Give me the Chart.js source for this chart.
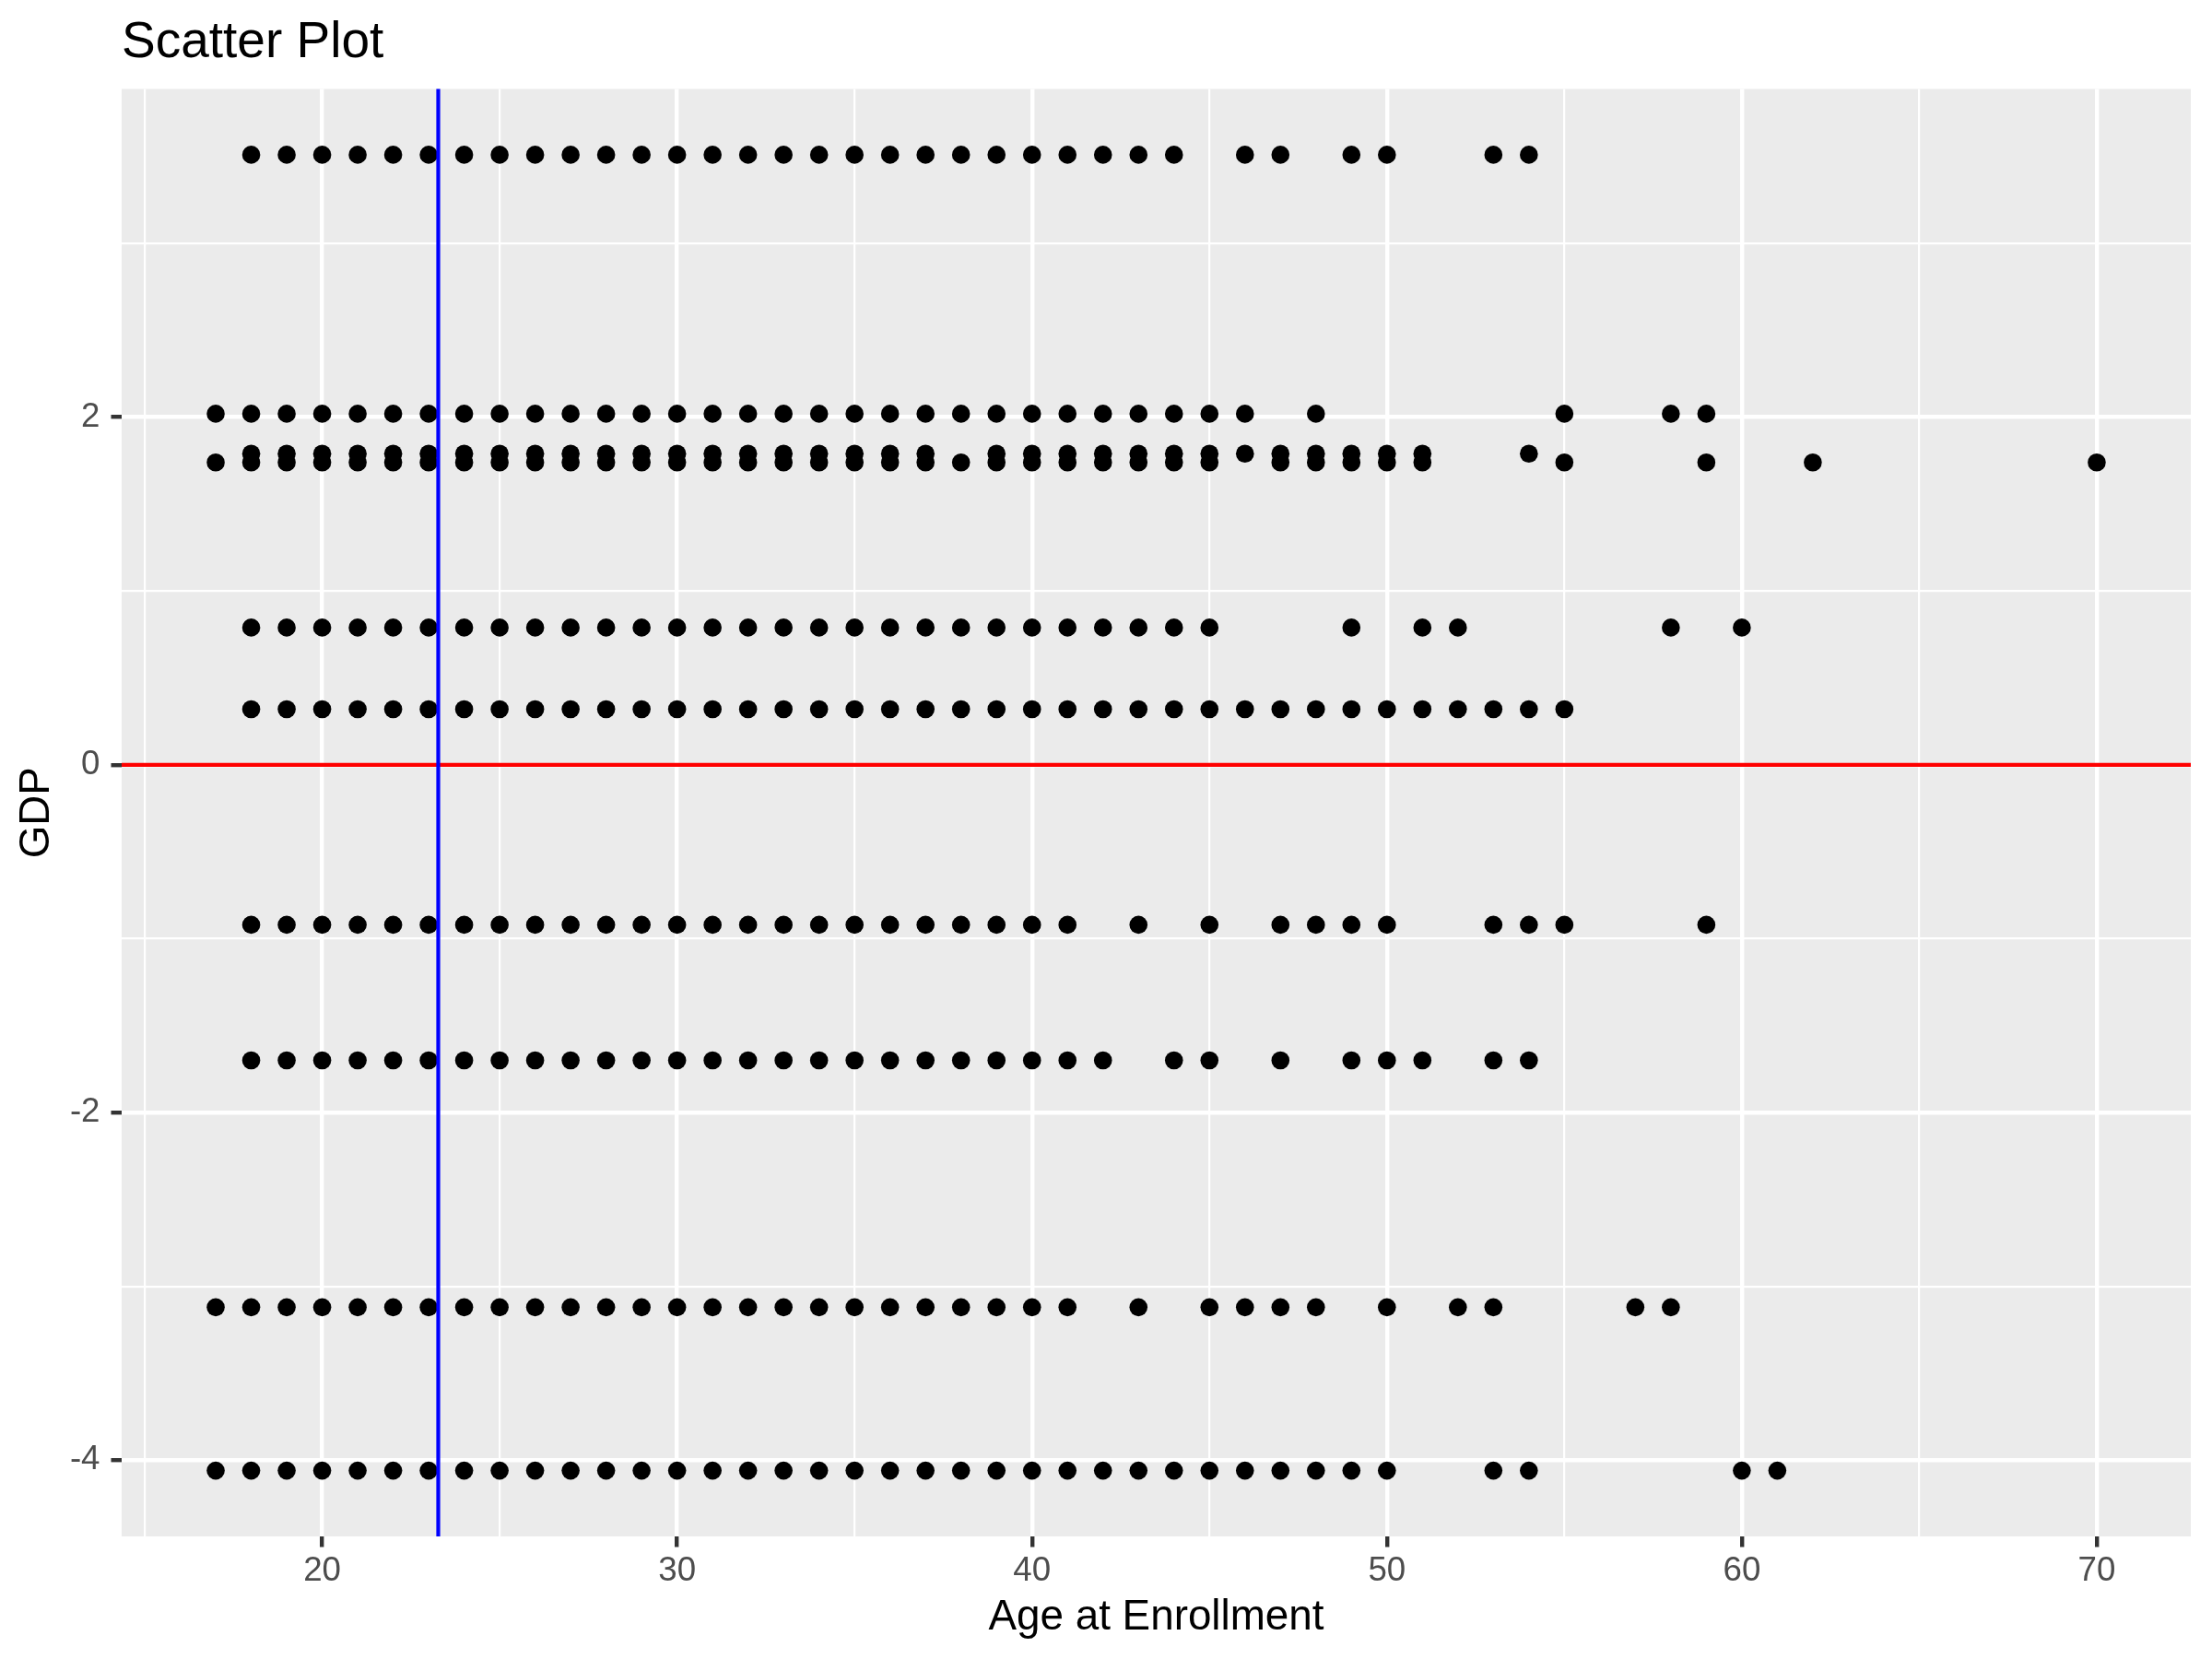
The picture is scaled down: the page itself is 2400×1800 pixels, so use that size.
<!DOCTYPE html>
<html><head><meta charset="utf-8">
<script src="https://cdn.jsdelivr.net/npm/chart.js@4/dist/chart.umd.min.js"></script>
<style>html,body{margin:0;padding:0;background:#fff}</style>
</head><body>
<canvas id="c" width="2400" height="1800"></canvas>
<script>
// ---- data ----
const gdpLevels = [3.51, 2.02, 1.79, 1.74, 0.79, 0.32, -0.92, -1.70, -3.12, -4.06];
const agesAtGdp351 = [18,19,20,21,22,23,24,25,26,27,28,29,30,31,32,33,34,35,36,37,38,39,40,41,42,43,44,46,47,49,50,53,54];
const agesAtGdp202 = [17,18,19,20,21,22,23,24,25,26,27,28,29,30,31,32,33,34,35,36,37,38,39,40,41,42,43,44,45,46,48,55,58,59];
const agesAtGdp179 = [18,19,20,21,22,23,24,25,26,27,28,29,30,31,32,33,34,35,36,37,39,40,41,42,43,44,45,46,47,48,49,50,51,54];
const agesAtGdp174 = [17,18,19,20,21,22,23,24,25,26,27,28,29,30,31,32,33,34,35,36,37,38,39,40,41,42,43,44,45,47,48,49,50,51,55,59,62,70];
const agesAtGdp079 = [18,19,20,21,22,23,24,25,26,27,28,29,30,31,32,33,34,35,36,37,38,39,40,41,42,43,44,45,49,51,52,58,60];
const agesAtGdp032 = [18,19,20,21,22,23,24,25,26,27,28,29,30,31,32,33,34,35,36,37,38,39,40,41,42,43,44,45,46,47,48,49,50,51,52,53,54,55];
const agesAtGdpM092 = [18,19,20,21,22,23,24,25,26,27,28,29,30,31,32,33,34,35,36,37,38,39,40,41,43,45,47,48,49,50,53,54,55,59];
const agesAtGdpM170 = [18,19,20,21,22,23,24,25,26,27,28,29,30,31,32,33,34,35,36,37,38,39,40,41,42,44,45,47,49,50,51,53,54];
const agesAtGdpM312 = [17,18,19,20,21,22,23,24,25,26,27,28,29,30,31,32,33,34,35,36,37,38,39,40,41,43,45,46,47,48,50,52,53,57,58];
const agesAtGdpM406 = [17,18,19,20,21,22,23,24,25,26,27,28,29,30,31,32,33,34,35,36,37,38,39,40,41,42,43,44,45,46,47,48,49,50,53,54,60,61];
const agesByLevel = [agesAtGdp351, agesAtGdp202, agesAtGdp179, agesAtGdp174, agesAtGdp079, agesAtGdp032, agesAtGdpM092, agesAtGdpM170, agesAtGdpM312, agesAtGdpM406];
const meanAge = 23.27;      // vertical reference line
const refGdp = 0;           // horizontal reference line
const xTickValues = [15,20,25,30,35,40,45,50,55,60,65,70];
const xMajorTicks = [20,30,40,50,60,70];
const yTickValues = [-4,-3,-2,-1,0,1,2,3];
const yMajorTicks = [-4,-2,0,2];
const xMin = 14.35, xMax = 72.65, yMin = -4.4385, yMax = 3.8885;

// ---- build points ----
const points = [];
gdpLevels.forEach((g, i) => agesByLevel[i].forEach(a => points.push({x: a, y: g})));

const FONT = "'Liberation Sans', Arial, Helvetica, sans-serif";

const panelBg = {
  id: 'panelBg',
  beforeDraw(chart) {
    const {ctx, chartArea: a} = chart;
    ctx.save();
    ctx.fillStyle = '#FFFFFF';
    ctx.fillRect(0, 0, chart.width, chart.height);
    ctx.fillStyle = '#EBEBEB';
    ctx.fillRect(a.left, a.top, a.right - a.left, a.bottom - a.top);
    ctx.restore();
  }
};
const refLines = {
  id: 'refLines',
  afterDatasetsDraw(chart) {
    const {ctx, chartArea: a, scales: {x, y}} = chart;
    ctx.save();
    ctx.lineWidth = 4.2;
    ctx.strokeStyle = '#FF0000';
    const py = y.getPixelForValue(refGdp);
    ctx.beginPath(); ctx.moveTo(a.left, py); ctx.lineTo(a.right, py); ctx.stroke();
    ctx.strokeStyle = '#0000FF';
    const px = x.getPixelForValue(meanAge);
    ctx.beginPath(); ctx.moveTo(px, a.top); ctx.lineTo(px, a.bottom); ctx.stroke();
    ctx.restore();
  }
};

const isMajor = (list) => (c) => c.tick && list.includes(c.tick.value);

new Chart(document.getElementById('c'), {
  type: 'scatter',
  data: { datasets: [{
    data: points,
    backgroundColor: '#000000',
    borderWidth: 0,
    pointRadius: 9.8,
    pointHoverRadius: 9.8
  }]},
  plugins: [panelBg, refLines],
  options: {
    responsive: false,
    animation: false,
    devicePixelRatio: 1,
    layout: { padding: { top: 0, right: 23, bottom: 0, left: 0 } },
    plugins: {
      legend: { display: false },
      tooltip: { enabled: false },
      title: {
        display: true, text: 'Scatter Plot', align: 'start', fullSize: false,
        color: '#000000',
        font: { family: FONT, size: 55, weight: 'normal', lineHeight: 1 },
        padding: { top: 19.5, bottom: 22 }
      }
    },
    scales: {
      x: {
        type: 'linear', min: xMin, max: xMax,
        afterBuildTicks: (s) => { s.ticks = xTickValues.map(v => ({value: v})); },
        afterFit: (s) => { s.height = 133; },
        border: { display: false },
        grid: {
          color: '#FFFFFF',
          lineWidth: (c) => isMajor(xMajorTicks)(c) ? 4.4 : 2.2,
          tickColor: (c) => isMajor(xMajorTicks)(c) ? '#333333' : 'rgba(0,0,0,0)',
          tickLength: 11.5, tickWidth: 4.4
        },
        ticks: {
          autoSkip: false, maxRotation: 0, padding: 4, color: '#4D4D4D',
          font: { family: FONT, size: 36.7 },
          callback: (v) => xMajorTicks.includes(v) ? String(v) : ''
        },
        title: {
          display: true, text: 'Age at Enrollment', color: '#000000',
          font: { family: FONT, size: 45.8, lineHeight: 1.2 },
          padding: { top: 0, bottom: 17.5 }
        }
      },
      y: {
        type: 'linear', min: yMin, max: yMax,
        afterBuildTicks: (s) => { s.ticks = yTickValues.map(v => ({value: v})); },
        afterFit: (s) => { s.width = 132; },
        border: { display: false },
        grid: {
          color: '#FFFFFF',
          lineWidth: (c) => isMajor(yMajorTicks)(c) ? 4.4 : 2.2,
          tickColor: (c) => isMajor(yMajorTicks)(c) ? '#333333' : 'rgba(0,0,0,0)',
          tickLength: 11.5, tickWidth: 4.4
        },
        ticks: {
          autoSkip: false, padding: 12, color: '#4D4D4D',
          font: { family: FONT, size: 36.7 },
          callback: (v) => yMajorTicks.includes(v) ? String(v) : ''
        },
        title: {
          display: true, text: 'GDP', color: '#000000',
          font: { family: FONT, size: 45.8, lineHeight: 1.2 },
          padding: { top: 13, bottom: 0 }
        }
      }
    }
  }
});
</script>
</body></html>
